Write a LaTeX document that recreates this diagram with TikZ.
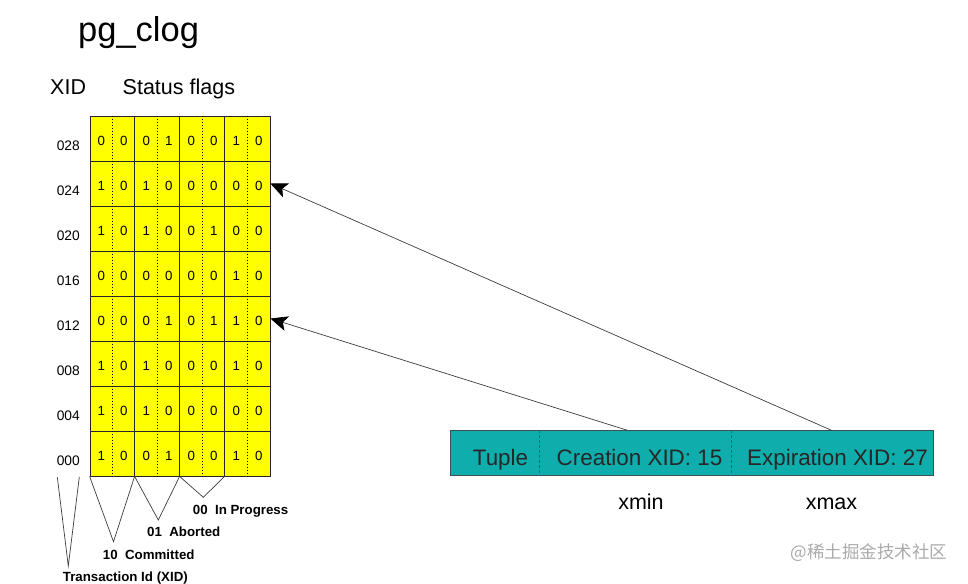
\documentclass[tikz,border=0pt]{standalone}
\usepackage{fontspec}
\setmainfont{Liberation Sans}
\newfontfamily\cjkfont{Noto Sans CJK SC}
\usetikzlibrary{arrows.meta,calc}
\definecolor{tealfill}{RGB}{16,173,173}
\definecolor{tealedge}{RGB}{60,80,80}
\definecolor{sepblue}{RGB}{30,100,140}
\definecolor{linegray}{RGB}{60,60,60}
\definecolor{wmgray}{RGB}{170,170,170}
\definecolor{cellyellow}{RGB}{255,255,0}
\newcommand{\fs}[1]{\fontsize{#1}{#1}\selectfont}
\begin{document}
\begin{tikzpicture}[x=1pt,y=-1pt,
  txt/.style={inner sep=0pt, anchor=base},
  txtw/.style={inner sep=0pt, anchor=base west},
  rowbox/.style={draw=black!85, line width=0.8pt, fill=cellyellow, minimum width=180pt, minimum height=45pt, inner sep=0pt},
  digit/.style={txt, font=\fs{13.3}},
  rowlab/.style={txt, font=\fs{13.8}},
  header/.style={txtw, font=\fs{21.5}},
  legend/.style={txtw, font=\bfseries\fs{13.3}},
  tuplebox/.style={draw=tealedge, line width=0.8pt, fill=tealfill, minimum width=483pt, minimum height=45pt, inner sep=0pt},
  tupletext/.style={txt, font=\fs{22.4}, text=black!85},
  sepline/.style={draw=sepblue, line width=0.7pt, dash pattern=on 3pt off 2pt},
  gridsolid/.style={draw=black!85, line width=0.8pt},
  griddot/.style={draw=black, line width=0.7pt, dash pattern=on 1.2pt off 1.8pt},
  conn/.style={draw=linegray, line width=0.7pt, -{Stealth[length=17pt,width=15pt,inset=4pt,black]}},
  vline/.style={draw=linegray, line width=0.7pt},
]
\useasboundingbox (0,0) rectangle (968,583);

% title and headers
\node[txtw, font=\fs{34.5}] (title) at (78,41.7) {pg\_clog};
\node[header] (xidhead) at (50,95) {XID};
\node[header] (flaghead) at (122.5,95) {Status flags};

% grid rows
\foreach \lab/\bits [count=\r from 0] in {
  028/{0,0,0,1,0,0,1,0},
  024/{1,0,1,0,0,0,0,0},
  020/{1,0,1,0,0,1,0,0},
  016/{0,0,0,0,0,0,1,0},
  012/{0,0,0,1,0,1,1,0},
  008/{1,0,1,0,0,0,1,0},
  004/{1,0,1,0,0,0,0,0},
  000/{1,0,0,1,0,0,1,0}} {
  \pgfmathsetmacro{\yc}{138.5+45*\r}
  \node[rowbox] (row\r) at (180,\yc) {};
  \node[rowlab] (lab\r) at (68.3,\yc+11.5) {\lab};
  \foreach \d [count=\c from 0] in \bits {
    \node[digit] (d-\r-\c) at (101.25+22.5*\c,\yc+6.8) {\d};
  }
}
% vertical separators
\foreach \k in {1,2,3} {
  \draw[gridsolid] ([xshift=45*\k pt]row0.north west) -- ([xshift=45*\k pt]row7.south west);
}
\foreach \k in {0,1,2,3} {
  \draw[griddot] ([xshift=22.5pt+45*\k pt]row0.north west) -- ([xshift=22.5pt+45*\k pt]row7.south west);
}

% tuple
\node[tuplebox] (tuple) at (691.5,453.25) {};
\draw[sepline] ([xshift=90pt]tuple.north west) -- ([xshift=90pt]tuple.south west);
\draw[sepline] ([xshift=281.7pt]tuple.north west) -- ([xshift=281.7pt]tuple.south west);
\node[tupletext] (tup) at (500.5,465.5) {Tuple};
\node[tupletext] (cre) at (639.5,465.5) {Creation XID: 15};
\node[tupletext] (exp) at (837.5,465.5) {Expiration XID: 27};
\node[txt, font=\fs{21.5}] (xmin) at (641,509.3) {xmin};
\node[txt, font=\fs{21.5}] (xmax) at (831.5,509.3) {xmax};

% arrows
\draw[conn] ([xshift=178pt]tuple.north west) -- (row4.east);
\draw[conn] ([xshift=382pt]tuple.north west) -- (row1.east);

% legend
\node[legend] (inprog) at (192.7,514.5) {00\ \ In Progress};
\node[legend] (abort) at (147,536) {01\ \ Aborted};
\node[legend] (commit) at (102.7,559.3) {10\ \ Committed};
\node[legend] (txid) at (62.7,581.5) {Transaction Id (XID)};

\coordinate (apx0) at (68.3,566);
\coordinate (apx1) at (113.5,541.7);
\coordinate (apx2) at (158.3,520);
\coordinate (apx3) at (203.3,497.3);
\coordinate (xl) at (57.3,477);
\coordinate (xr) at (79.3,477);
\draw[vline] (xl) -- (apx0) -- (xr);
\draw[vline] (row7.south west) -- (apx1) -- ([xshift=45pt]row7.south west);
\draw[vline] ([xshift=45pt]row7.south west) -- (apx2) -- ([xshift=90pt]row7.south west);
\draw[vline] ([xshift=90pt]row7.south west) -- (apx3) -- ([xshift=135pt]row7.south west);

% watermark
\node[txt, anchor=center, font=\cjkfont\fs{17.5}, text=wmgray] (wm) at (869,553) {@稀土掘金技术社区};
\end{tikzpicture}
\end{document}
